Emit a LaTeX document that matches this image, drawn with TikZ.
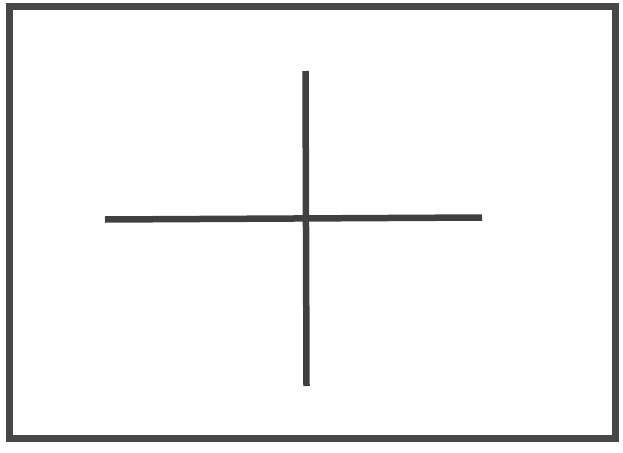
\documentclass[tikz,border=0pt]{standalone}
\begin{document}
\begin{tikzpicture}[x=1pt,y=-1pt,
  ink/.style={draw=black!75,line width=6.5pt},
  frame/.style={draw=black!72,line width=7pt}]
\useasboundingbox (0,0) rectangle (623,452);
\coordinate (tl) at (9.5,6.5);
\coordinate (br) at (615,438);
\draw[frame] (tl) rectangle (br);
\coordinate (hl) at (105,219.5);
\coordinate (hr) at (482,217.5);
\coordinate (vt) at (305.5,71);
\coordinate (vb) at (306.5,386);
\draw[ink] (hl) -- (hr);
\draw[ink] (vt) -- (vb);
\end{tikzpicture}
\end{document}
